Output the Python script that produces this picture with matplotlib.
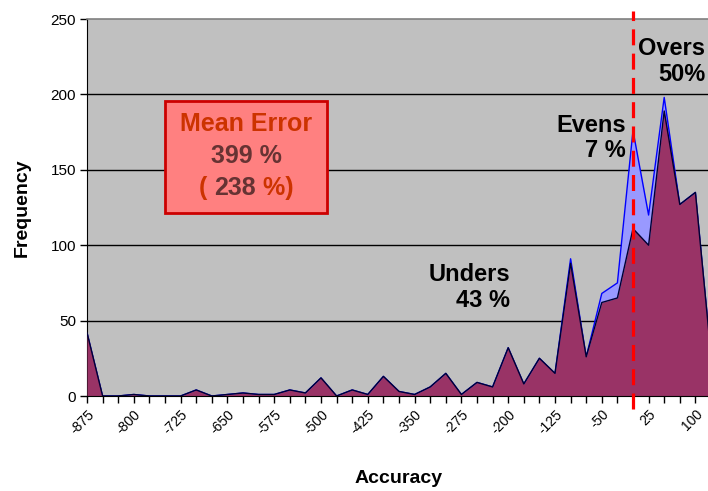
import matplotlib
matplotlib.use("Agg")
import matplotlib.pyplot as plt
import numpy as np

plt.rcParams['font.family'] = ['Liberation Sans', 'DejaVu Sans']

# Categories: accuracy bins (step 25)
accuracy = list(range(-875, 126, 25))

# Unders + Overs (front, purple)
purple = [42, 0, 0, 1, 0, 0, 0, 4, 0, 1, 2, 1, 1, 4, 2, 12, 0, 4, 1, 13,
          3, 1, 6, 15, 1, 9, 6, 32, 8, 25, 15, 88, 26, 62, 65, 111, 100, 189, 127, 135, 27]
# Including Evens (back, blue)
blue = [42, 0, 0, 1, 0, 0, 0, 4, 0, 1, 2, 1, 1, 4, 2, 12, 0, 4, 1, 13,
        3, 1, 6, 15, 1, 9, 6, 32, 8, 25, 15, 91, 26, 68, 75, 176, 120, 198, 127, 135, 27]

tick_labels = [str(v) if (v + 875) % 75 == 0 else "" for v in accuracy]
y_ticks = [0, 50, 100, 150, 200, 250]

W, H = 708, 491
fig = plt.figure(figsize=(W / 100, H / 100), dpi=100)
ax = fig.add_axes([87 / W, 1 - 396 / H, 711 / W - 87 / W, (396 - 19) / H])
ax.set_facecolor('#C0C0C0')

ax.fill_between(accuracy, blue, color='#9999FF', zorder=2, lw=0)
ax.plot(accuracy, blue, color='#0000FF', lw=1.0, zorder=2.1)
ax.fill_between(accuracy, purple, color='#993366', zorder=3, lw=0)
ax.plot(accuracy, purple, color='#000033', lw=1.0, zorder=3.1)

ax.set_xlim(-875, 125)
ax.set_ylim(0, 250)
ax.set_yticks(y_ticks)
ax.set_yticklabels([str(v) for v in y_ticks], fontsize=11)
for v in y_ticks[1:-1]:
    ax.axhline(v, color='black', lw=1.0, zorder=1)

ax.set_xticks(accuracy)
ax.set_xticklabels(tick_labels, rotation=45, ha='right', va='top',
                   rotation_mode='anchor', fontsize=10)
ax.tick_params(axis='x', length=5, width=1, direction='out', pad=3)
ax.tick_params(axis='y', length=5, width=1, direction='out', pad=3)

ax.spines['right'].set_visible(False)
ax.spines['top'].set_color('#808080')
ax.spines['top'].set_linewidth(1.2)
ax.spines['left'].set_color('black')
ax.spines['bottom'].set_color('black')
ax.spines['bottom'].set_zorder(5)

ax.set_xlabel('Accuracy', fontsize=14, fontweight='bold', labelpad=24)
ax.set_ylabel('Frequency', fontsize=14, fontweight='bold', labelpad=14)

# Red dashed line at 0
trans = ax.get_xaxis_transform()
ax.plot([0, 0], [-0.035, 1.02], transform=trans, color='#FF0000', lw=2.3,
        dashes=(5, 2.6), clip_on=False, zorder=6)

# Annotations
tk = dict(fontsize=17, fontweight='bold', ha='right', va='center', color='black',
          zorder=7, linespacing=1.15)
ax.text(-197, 72, 'Unders\n43 %', **tk)
ax.text(-11, 171, 'Evens\n7 %', **tk)
ax.text(116, 222, 'Overs\n50%', **tk)

# Mean error box
fig.patches.append(plt.Rectangle((165 / W, 1 - 213 / H), 162 / W, 112 / H,
                                 transform=fig.transFigure, facecolor='#FF8080',
                                 edgecolor='#CC0000', lw=2, zorder=8))
cx = 246 / W
orange = '#CC3300'
brown = '#663333'
bfs = 18
fig.text(cx, 1 - 124 / H, 'Mean Error', ha='center', va='center', fontsize=bfs,
         fontweight='bold', color=orange, zorder=9)
fig.text(cx, 1 - 156 / H, '399 %', ha='center', va='center', fontsize=bfs,
         fontweight='bold', color=brown, zorder=9)

# "( 238 %)" with coloured parts, laid out side by side
parts = [('( ', orange), ('238', brown), (' %)', orange)]
renderer = fig.canvas.get_renderer()
tmp = [fig.text(0, 0, s, fontsize=bfs, fontweight='bold') for s, _ in parts]
widths = [t.get_window_extent(renderer).width for t in tmp]
for t in tmp:
    t.remove()
x = cx * W - sum(widths) / 2
for (s, c), w in zip(parts, widths):
    fig.text(x / W, 1 - 188 / H, s, ha='left', va='center', fontsize=bfs,
             fontweight='bold', color=c, zorder=9)
    x += w

fig.savefig('out.png', dpi=100)
